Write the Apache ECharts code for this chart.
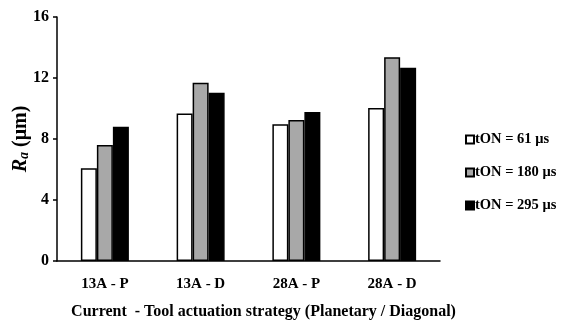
<!DOCTYPE html>
<html><head><meta charset="utf-8">
<script src="https://cdn.jsdelivr.net/npm/echarts@6/dist/echarts.min.js"></script>
<style>html,body{margin:0;padding:0;background:#fff}#c{width:561px;height:325px}</style>
</head><body><div id="c"></div>
<script>
const categories = ['13A - P', '13A - D', '28A - P', '28A - D'];
const seriesNames = ['tON = 61 μs', 'tON = 180 μs', 'tON = 295 μs'];
const ton61 = [6.08, 9.68, 8.96, 10.03];
const ton180 = [7.6, 11.69, 9.25, 13.36];
const ton295 = [8.8, 11.04, 9.77, 12.68];
const yTicks = [0, 4, 8, 12, 16];

const font = 'Liberation Serif, Times New Roman, serif';
const colors = ['#ffffff', '#a8a8a8', '#000000'];
const values = [ton61, ton180, ton295];

const chart = echarts.init(document.getElementById('c'), null, {renderer: 'canvas'});
chart.setOption({
  animation: false,
  backgroundColor: '#fff',
  grid: {left: 57, right: 121, top: 17, bottom: 64, containLabel: false, outerBoundsMode: 'none'},
  legend: {
    orient: 'vertical', left: 465, top: 132, padding: 0, itemGap: 18, itemWidth: 8, itemHeight: 8,
    icon: 'rect',
    textStyle: {fontFamily: font, fontWeight: 'bold', fontSize: 14.5, lineHeight: 15, color: '#000', padding: [0,0,0,-4]},
    data: seriesNames
  },
  xAxis: {
    type: 'category', data: categories,
    axisLine: {lineStyle: {color: '#000', width: 1.5}},
    axisTick: {show: false},
    axisLabel: {fontFamily: font, fontWeight: 'bold', fontSize: 15, color: '#000', margin: 16},
    name: 'Current  - Tool actuation strategy (Planetary / Diagonal)',
    nameLocation: 'middle', nameGap: 43, nameMoveOverlap: false,
    nameTextStyle: {fontFamily: font, fontWeight: 'bold', fontSize: 16, color: '#000', padding: [0,0,0,30]}
  },
  yAxis: {
    type: 'value', min: yTicks[0], max: yTicks[yTicks.length-1], interval: 4,
    splitLine: {show: false},
    axisLine: {show: true, lineStyle: {color: '#000', width: 1.5}},
    axisTick: {show: true, length: 4, lineStyle: {color: '#000', width: 1.5}},
    axisLabel: {fontFamily: font, fontWeight: 'bold', fontSize: 16, color: '#000', margin: 8},
    name: '{i|R}{s|a}{n| (μm)}',
    nameLocation: 'middle', nameGap: 26, nameRotate: 90, nameMoveOverlap: false,
    nameTextStyle: {
      rich: {
        i: {fontFamily: font, fontWeight: 'bold', fontStyle: 'italic', fontSize: 20, color: '#000'},
        s: {fontFamily: font, fontWeight: 'bold', fontStyle: 'italic', fontSize: 14, color: '#000', verticalAlign: 'bottom', padding: [7,0,0,0]},
        n: {fontFamily: font, fontWeight: 'bold', fontSize: 20, color: '#000'}
      }
    }
  },
  series: seriesNames.map((n, i) => ({
    name: n, type: 'bar', data: values[i], barWidth: 16, barGap: '0%',
    itemStyle: {color: colors[i], borderColor: '#000', borderWidth: 1.5}
  }))
});
</script>
</body></html>
